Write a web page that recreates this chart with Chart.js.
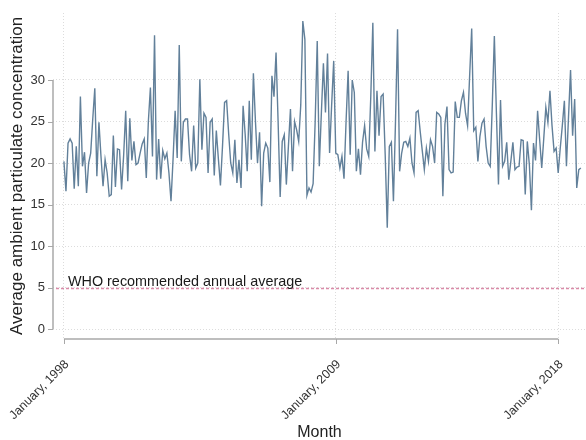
<!DOCTYPE html>
<html><head><meta charset="utf-8">
<script src="https://cdn.jsdelivr.net/npm/chart.js@4.4.1/dist/chart.umd.min.js"></script>
<style>html,body{margin:0;padding:0;background:#fff}#wrap{width:586px;height:440px}</style>
</head><body><div id="wrap"><canvas id="c" width="586" height="440"></canvas></div>
<script>
// Monthly average ambient particulate concentration, Jan 1998 (month 0) to Dec 2018 (month 251)
const pmValues = [
20.2,16.6,22.4,22.9,22.4,16.9,22.0,17.2,28.0,19.6,21.3,16.4,
20.0,21.2,25.3,29.0,18.4,24.9,20.8,17.2,20.4,18.8,16.0,16.2,
23.3,17.1,21.7,21.6,16.8,20.9,26.3,17.8,25.4,20.3,22.6,19.8,
20.0,21.2,22.3,22.9,18.2,25.0,29.1,20.8,35.4,18.0,22.9,18.1,
21.5,20.5,21.2,18.8,15.4,20.5,26.3,20.6,34.2,20.2,24.9,25.3,
25.3,21.0,19.0,24.5,19.4,20.0,30.1,21.6,26.0,25.5,18.8,24.9,
25.3,18.5,23.9,20.5,17.3,22.0,27.3,27.5,23.5,20.0,18.8,22.8,
17.6,20.4,17.0,26.9,23.5,19.0,27.5,20.4,30.8,25.0,20.0,23.7,
14.8,21.2,22.4,21.8,17.7,30.5,28.0,33.3,25.0,15.9,22.6,23.4,
17.4,22.0,26.5,19.0,25.0,24.0,22.6,27.0,37.1,34.9,16.1,17.0,
16.5,17.5,25.0,34.7,19.6,26.0,32.0,26.1,33.2,21.2,27.0,32.3,
21.2,21.0,19.4,20.8,18.1,25.0,31.1,21.0,30.0,28.5,19.0,21.7,
18.6,22.5,24.5,21.7,20.8,28.0,36.9,21.4,28.7,23.3,28.0,28.3,
21.0,12.2,22.0,22.5,15.4,25.0,36.1,19.0,21.2,22.5,22.6,22.0,
23.0,20.0,18.8,26.1,26.3,23.8,21.5,19.2,21.8,20.2,22.8,22.0,
20.0,26.1,25.9,25.5,16.0,24.7,26.8,19.2,18.8,18.9,27.4,25.5,
25.5,27.5,28.5,26.0,24.5,30.5,36.2,23.9,24.3,20.2,23.2,24.8,
25.3,22.0,20.0,19.6,27.0,35.3,26.0,17.4,27.6,19.6,20.2,22.5,
18.0,20.2,22.5,19.2,19.5,19.6,22.8,22.7,16.2,22.6,19.8,14.3,
22.4,20.3,26.3,22.8,19.4,23.0,26.7,24.9,28.7,24.5,21.4,21.8,
18.8,21.8,24.5,27.5,19.6,25.5,31.2,23.3,27.7,17.0,19.2,19.4
];
const xTickMonths = [0, 132, 240];
const xTickLabels = ['January, 1998', 'January, 2009', 'January, 2018'];
const yTicks = [0, 5, 10, 15, 20, 25, 30];
const whoValue = 5;
const whoLabel = 'WHO recommended annual average';
const yTitle = 'Average ambient particulate concentration';
const xTitle = 'Month';

const FONT = "'Liberation Sans', Arial, Helvetica, sans-serif";
const AXIS_COLOR = '#a8a8a8';

const stataAxes = {
  id: 'stataAxes',
  beforeDatasetsDraw(chart) {
    const ctx = chart.ctx, x = chart.scales.x, y = chart.scales.y, a = chart.chartArea;
    ctx.save();
    const wy = Math.round(y.getPixelForValue(whoValue)) + 0.5;
    ctx.strokeStyle = '#d98aa8';
    ctx.lineWidth = 1.3;
    ctx.setLineDash([3, 2]);
    ctx.beginPath(); ctx.moveTo(a.left + 3, wy); ctx.lineTo(a.right, wy); ctx.stroke();
    ctx.setLineDash([]);
    ctx.fillStyle = '#1a1a1a';
    ctx.font = '14.4px ' + FONT;
    ctx.textAlign = 'left'; ctx.textBaseline = 'alphabetic';
    ctx.fillText(whoLabel, x.getPixelForValue(0) + 4, wy - 2.5);
    ctx.restore();
  },
  afterDraw(chart) {
    const ctx = chart.ctx, x = chart.scales.x, y = chart.scales.y, a = chart.chartArea;
    ctx.save();
    ctx.strokeStyle = AXIS_COLOR;
    ctx.lineWidth = 1.5;
    const lx = a.left;
    ctx.beginPath();
    ctx.moveTo(lx, y.getPixelForValue(yTicks[0]));
    ctx.lineTo(lx, y.getPixelForValue(yTicks[yTicks.length - 1]));
    ctx.stroke();
    ctx.lineWidth = 1;
    yTicks.forEach(v => {
      const py = Math.round(y.getPixelForValue(v)) + 0.5;
      ctx.beginPath(); ctx.moveTo(lx - 5, py); ctx.lineTo(lx, py); ctx.stroke();
    });
    ctx.lineWidth = 1.5;
    const by = a.bottom;
    ctx.beginPath();
    ctx.moveTo(x.getPixelForValue(xTickMonths[0]), by);
    ctx.lineTo(x.getPixelForValue(xTickMonths[xTickMonths.length - 1]), by);
    ctx.stroke();
    ctx.lineWidth = 1;
    xTickMonths.forEach(v => {
      const px = Math.round(x.getPixelForValue(v)) + 0.5;
      ctx.beginPath(); ctx.moveTo(px, by); ctx.lineTo(px, by + 5); ctx.stroke();
    });
    ctx.restore();
  }
};

new Chart(document.getElementById('c'), {
  type: 'line',
  data: {
    datasets: [{
      data: pmValues.map((v, i) => ({ x: i, y: v })),
      borderColor: '#62809a',
      borderWidth: 1.4,
      pointRadius: 0,
      tension: 0,
      fill: false
    }]
  },
  options: {
    responsive: false,
    animation: false,
    devicePixelRatio: 1,
    layout: { padding: { top: 13, right: 0, left: 0, bottom: 0 } },
    plugins: { legend: { display: false }, tooltip: { enabled: false } },
    scales: {
      x: {
        type: 'linear',
        min: -5.3,
        max: 253.5,
        afterBuildTicks: s => { s.ticks = xTickMonths.map(v => ({ value: v })); },
        afterFit: s => { s.height = 101; s.paddingLeft = 0; s.paddingRight = 0; },
        grid: { color: '#dcdcdc', lineWidth: 1, drawTicks: false },
        border: { display: false, dash: [1, 2] },
        ticks: {
          autoSkip: false,
          maxRotation: 45, minRotation: 45,
          padding: 18,
          labelOffset: 3,
          color: '#333',
          font: { size: 12.5, family: FONT },
          callback: v => { const k = xTickMonths.indexOf(v); return k >= 0 ? xTickLabels[k] : null; }
        },
        title: { display: true, text: xTitle, color: '#222', font: { size: 16, family: FONT }, padding: { top: 0, bottom: -2 } }
      },
      y: {
        min: -1.2,
        max: 38.07,
        afterBuildTicks: s => { s.ticks = yTicks.map(v => ({ value: v })); },
        afterFit: s => { s.width = 53; s.paddingTop = 0; s.paddingBottom = 0; },
        grid: { color: '#dcdcdc', lineWidth: 1, drawTicks: false },
        border: { display: false, dash: [1, 2] },
        ticks: { padding: 8, color: '#333', font: { size: 13, family: FONT } },
        title: { display: true, text: yTitle, color: '#222', font: { size: 17, family: FONT }, padding: { top: 7, bottom: 0 } }
      }
    }
  },
  plugins: [stataAxes]
});
</script>
</body></html>
